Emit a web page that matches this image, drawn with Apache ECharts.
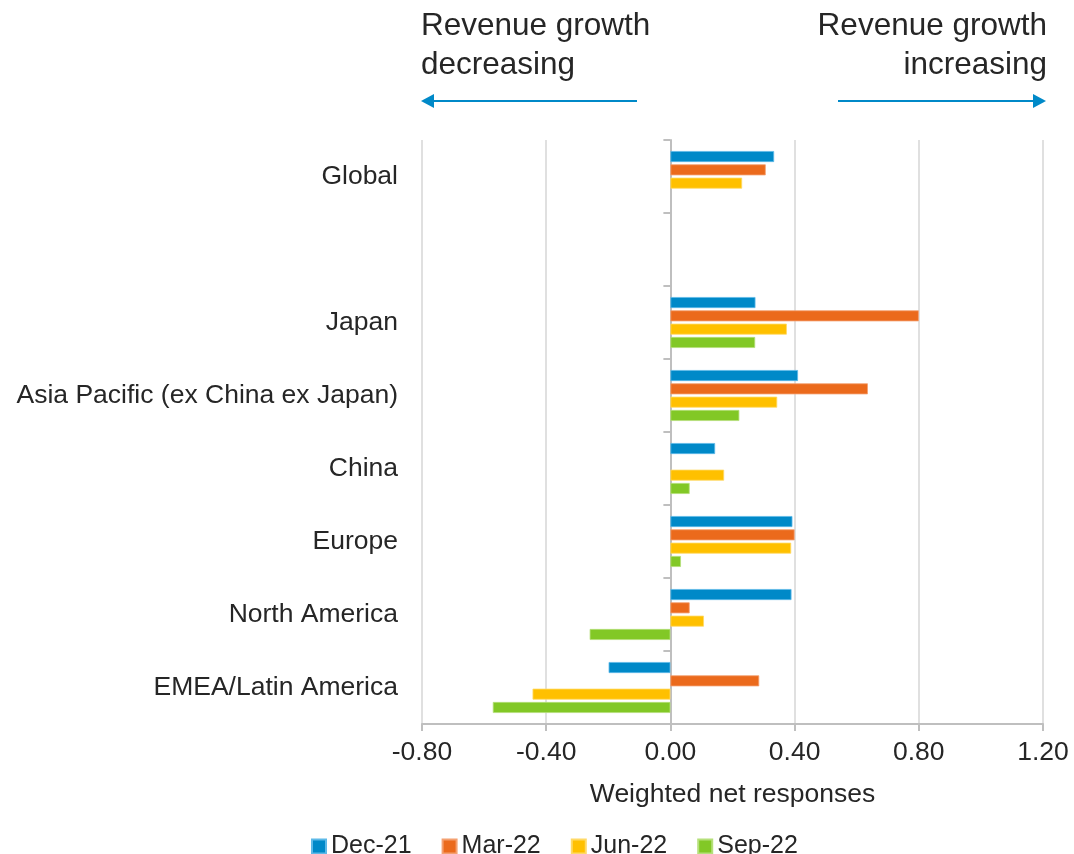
<!DOCTYPE html>
<html>
<head>
<meta charset="utf-8">
<script src="https://cdn.jsdelivr.net/npm/echarts@6/dist/echarts.min.js"></script>
<style>
html,body{margin:0;padding:0;background:#fff;}
#chart{width:1074px;height:854px;}
</style>
</head>
<body>
<div id="chart"></div>
<script>
var categories = ['Global', '', 'Japan', 'Asia Pacific (ex China ex Japan)', 'China', 'Europe', 'North America', 'EMEA/Latin America'];
var seriesNames = ['Dec-21', 'Mar-22', 'Jun-22', 'Sep-22'];
var dec21 = [0.334, null, 0.274, 0.411, 0.144, 0.393, 0.390, -0.199];
var mar22 = [0.307, null, 0.800, 0.636, null, 0.400, 0.062, 0.286];
var jun22 = [0.231, null, 0.375, 0.344, 0.173, 0.389, 0.108, -0.444];
var sep22 = [null, null, 0.273, 0.222, 0.062, 0.034, -0.260, -0.572];
var xTicks = { min: -0.8, max: 1.2, interval: 0.4 };

var colors = ['#0089C8', '#EB6A1C', '#FFC000', '#82C826'];
var borders = ['#5DB9E8', '#F4A070', '#FFD966', '#B5E07A'];
var FONT = "'Liberation Sans', Arial, sans-serif";
var TXT = '#262626';

var allData = [dec21, mar22, jun22, sep22];
var series = allData.map(function (d, i) {
  return {
    name: seriesNames[i],
    type: 'bar',
    yAxisIndex: 0,
    data: d,
    barWidth: 11,
    barGap: '21%',
    itemStyle: { color: colors[i], borderColor: borders[i], borderWidth: 0.8 },
    emphasis: { disabled: true },
    animation: false
  };
});

var chart = echarts.init(document.getElementById('chart'));
chart.setOption({
  animation: false,
  textStyle: { fontFamily: FONT },
  grid: { left: 422, right: 31, top: 140, bottom: 130, containLabel: false },
  legend: {
    data: seriesNames,
    left: 306,
    top: 829,
    icon: 'rect',
    itemWidth: 14,
    itemHeight: 14,
    itemGap: 30,
    textStyle: { fontSize: 25, color: TXT, fontFamily: FONT }
  },
  xAxis: {
    type: 'value',
    min: xTicks.min,
    max: xTicks.max,
    interval: xTicks.interval,
    name: 'Weighted net responses',
    nameLocation: 'middle',
    nameGap: 57,
    nameTextStyle: { fontSize: 26.5, color: TXT, fontFamily: FONT },
    axisLine: { show: true, onZero: false, lineStyle: { color: '#BFBFBF', width: 2 } },
    axisTick: { show: true, length: 7, lineStyle: { color: '#BFBFBF', width: 2 } },
    axisLabel: {
      fontSize: 26.5, color: TXT, margin: 15, fontFamily: FONT,
      formatter: function (v) { return v.toFixed(2); }
    },
    splitLine: { show: true, lineStyle: { color: '#E0E0E0', width: 2 } }
  },
  yAxis: [
    {
      type: 'category',
      data: categories,
      inverse: true,
      position: 'left',
      axisLine: { show: false, onZero: false },
      axisTick: { show: false },
      axisLabel: { fontSize: 26.5, color: TXT, margin: 24, fontFamily: FONT },
      splitLine: { show: false }
    },
    {
      type: 'category',
      data: categories,
      inverse: true,
      position: 'left',
      axisLine: { show: true, onZero: true, lineStyle: { color: '#BFBFBF', width: 2 } },
      axisTick: { show: true, length: 7, lineStyle: { color: '#BFBFBF', width: 2 } },
      axisLabel: { show: false },
      splitLine: { show: false }
    }
  ],
  graphic: [
    {
      type: 'text', x: 421, y: 7,
      style: { text: 'Revenue growth\ndecreasing', font: '31.5px ' + FONT, fill: TXT, lineHeight: 39, align: 'left' }
    },
    {
      type: 'text', x: 1047, y: 7,
      style: { text: 'Revenue growth\nincreasing', font: '31.5px ' + FONT, fill: TXT, lineHeight: 39, align: 'right' }
    },
    {
      type: 'line', shape: { x1: 432, y1: 101, x2: 637, y2: 101 },
      style: { stroke: '#0089C8', lineWidth: 2 }
    },
    {
      type: 'polygon', shape: { points: [[421, 101], [434, 94], [434, 108]] },
      style: { fill: '#0089C8' }
    },
    {
      type: 'line', shape: { x1: 838, y1: 101, x2: 1035, y2: 101 },
      style: { stroke: '#0089C8', lineWidth: 2 }
    },
    {
      type: 'polygon', shape: { points: [[1046, 101], [1033, 94], [1033, 108]] },
      style: { fill: '#0089C8' }
    }
  ],
  series: series
});
</script>
</body>
</html>
